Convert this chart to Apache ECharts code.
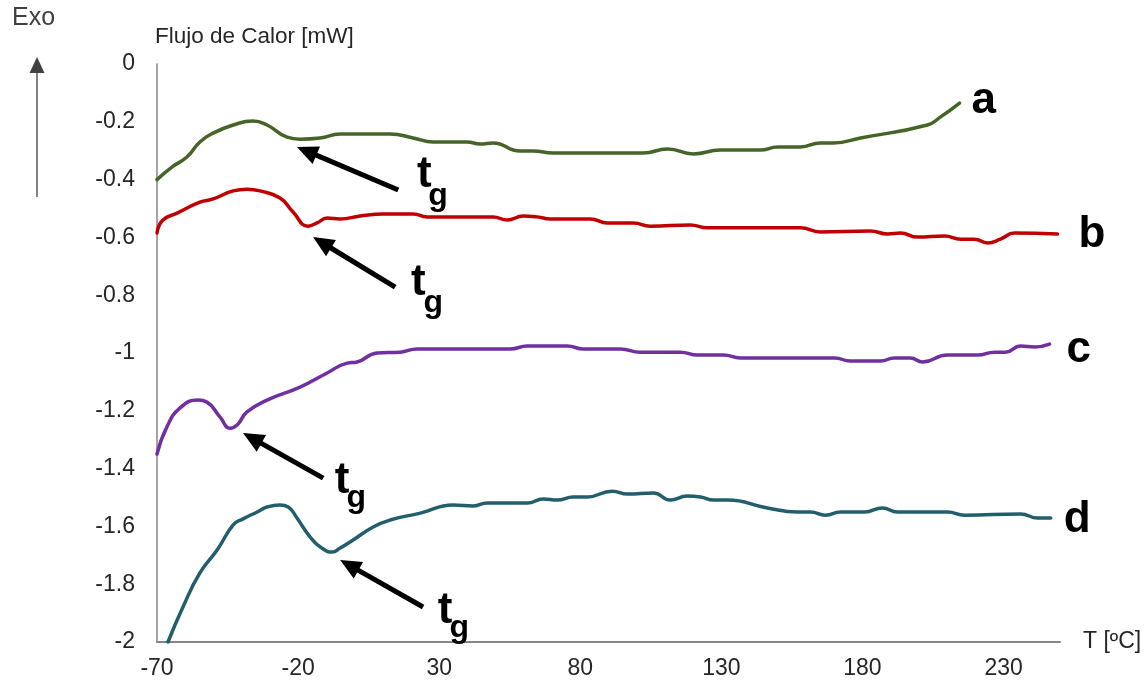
<!DOCTYPE html>
<html lang="es">
<head>
<meta charset="utf-8">
<title>Flujo de Calor</title>
<script src="https://cdn.jsdelivr.net/npm/echarts@6.0.0/dist/echarts.min.js"></script>
<style>
  html, body { margin: 0; padding: 0; background: #fff; }
  #grafico { width: 1147px; height: 685px; }
</style>
</head>
<body>
<div id="grafico"></div>
<script>
// Curvas DSC: [temperatura ºC, flujo de calor mW]
const curvaA = [[-70,-0.40],[-64.5,-0.355],[-59.4,-0.322],[-54.8,-0.27],[-50.1,-0.239],[-43,-0.211],[-36,-0.197],[-31,-0.211],[-23.9,-0.253],[-19.3,-0.26],[-12.2,-0.256],[-5.1,-0.242],[12.6,-0.242],[20.8,-0.256],[27.9,-0.27],[39.9,-0.27],[44.5,-0.277],[49.1,-0.273],[58.7,-0.301],[63.3,-0.301],[70.4,-0.308],[102.3,-0.308],[110.9,-0.294],[120.1,-0.311],[129.6,-0.298],[143.8,-0.298],[149.9,-0.287],[158,-0.287],[165.1,-0.273],[169.7,-0.273],[179.3,-0.256],[203,-0.211],[207.7,-0.183],[214.4,-0.135]];

const curvaB = [[-70,-0.585],[-67.9,-0.54],[-62.9,-0.516],[-54.8,-0.478],[-50.1,-0.467],[-43,-0.439],[-38.1,-0.433],[-33.5,-0.439],[-26.4,-0.464],[-21.8,-0.512],[-16.5,-0.561],[-13.3,-0.55],[-9.7,-0.533],[-5.1,-0.536],[2,-0.526],[10.1,-0.519],[20.8,-0.519],[25.7,-0.529],[49.1,-0.529],[54.1,-0.54],[59.8,-0.526],[64.8,-0.529],[69.4,-0.536],[83.5,-0.536],[89.6,-0.55],[98.8,-0.55],[104.8,-0.561],[119,-0.557],[125,-0.567],[158,-0.567],[165.1,-0.581],[182.8,-0.578],[188.9,-0.588],[193.5,-0.585],[199.5,-0.599],[209.1,-0.595],[214.8,-0.606],[219.7,-0.606],[224.3,-0.619],[228.9,-0.606],[233.9,-0.585],[249.1,-0.588]];

const curvaC = [[-70,-1.35],[-66.5,-1.256],[-61.8,-1.19],[-55.5,-1.163],[-52.3,-1.17],[-47.7,-1.221],[-44.1,-1.26],[-41.6,-1.249],[-38.1,-1.204],[-31,-1.163],[-19.3,-1.118],[-9.7,-1.069],[-2.6,-1.035],[0.9,-1.031],[8,-1.0],[16.2,-0.997],[22.2,-0.986],[55.2,-0.986],[61.2,-0.976],[75.4,-0.976],[81.1,-0.986],[94.2,-0.986],[101.3,-0.997],[115.5,-0.997],[121.5,-1.007],[130.7,-1.007],[136.7,-1.017],[170.1,-1.017],[175.7,-1.028],[186.4,-1.028],[191.3,-1.017],[197,-1.017],[201.3,-1.031],[210.1,-1.007],[220.8,-1.007],[226.8,-0.997],[230.7,-0.997],[236,-0.976],[241,-0.979],[246.3,-0.969]];

const curvaD = [[-66.1,-2.0],[-60.8,-1.879],[-54.8,-1.761],[-48.7,-1.682],[-43,-1.595],[-39.5,-1.574],[-34.5,-1.55],[-31,-1.533],[-26.4,-1.526],[-23.5,-1.533],[-20.4,-1.571],[-15.7,-1.637],[-11.1,-1.678],[-7.9,-1.689],[-5.1,-1.675],[-0.5,-1.647],[6.6,-1.602],[12.6,-1.578],[23.3,-1.554],[35,-1.526],[42.1,-1.529],[47,-1.519],[61.2,-1.519],[66.9,-1.505],[71.8,-1.509],[77.5,-1.498],[82.5,-1.498],[91.3,-1.478],[96.7,-1.488],[105.9,-1.484],[111.9,-1.509],[117.9,-1.495],[122.6,-1.498],[127.2,-1.509],[132.1,-1.509],[146.3,-1.536],[157,-1.55],[161.6,-1.55],[166.9,-1.561],[172.2,-1.55],[180.7,-1.55],[187.1,-1.536],[192.4,-1.55],[210.1,-1.55],[216.2,-1.561],[236,-1.557],[242.1,-1.571],[246.7,-1.571]];

// Nombre de cada muestra y su color
const muestras = ['a', 'b', 'c', 'd'];
const colores = ['#456528', '#C00000', '#7030A0', '#225E6C'];

// Flechas de transición vítrea: [T cola, flujo cola, T punta, flujo punta]
const flechasTg = [
  [15.5, -0.436, -20.4, -0.287],
  [14.4, -0.772, -14.7, -0.599],
  [-11.1, -1.433, -39.5, -1.277],
  [24.3, -1.879, -5.1, -1.716]
];
// Rótulos "t" con subíndice "g": [T, flujo, texto, tamaño]
const rotulosTg = [
  [24.7, -0.384, 't', 44], [29.6, -0.457, 'g', 32],
  [22.6, -0.758, 't', 44], [27.9, -0.827, 'g', 32],
  [-4.4, -1.443, 't', 44], [0.6, -1.502, 'g', 32],
  [32.1, -1.893, 't', 44], [37.1, -1.952, 'g', 32]
];

const FUENTE = '"Liberation Sans", Arial, sans-serif';
const curvas = [curvaA, curvaB, curvaC, curvaD];
// Separación y desplazamiento vertical de la letra al final de cada curva
const etiquetaFinal = [
  { distance: 12, offset: [0, -2] },
  { distance: 21, offset: [0, 1] },
  { distance: 17, offset: [0, 6] },
  { distance: 13, offset: [0, 2] }
];

const chart = echarts.init(document.getElementById('grafico'), null, { renderer: 'canvas' });

const seriesCurvas = curvas.map((datos, i) => ({
  name: muestras[i],
  type: 'line',
  data: datos,
  smooth: 0.5,
  showSymbol: false,
  symbol: 'none',
  silent: true,
  lineStyle: { color: colores[i], width: 3.5, cap: 'round', join: 'round' },
  itemStyle: { color: colores[i] },
  endLabel: {
    show: true,
    formatter: muestras[i],
    color: '#000',
    fontFamily: FUENTE,
    fontWeight: 'bold',
    fontSize: 44,
    distance: etiquetaFinal[i].distance,
    offset: etiquetaFinal[i].offset
  },
  z: 3
}));

const serieFlechas = {
  type: 'custom',
  data: flechasTg,
  encode: { x: [0, 2], y: [1, 3] },
  silent: true,
  clip: false,
  z: 5,
  renderItem: function (params, api) {
    const p1 = api.coord([api.value(0), api.value(1)]);
    const p2 = api.coord([api.value(2), api.value(3)]);
    const dx = p2[0] - p1[0], dy = p2[1] - p1[1];
    const len = Math.sqrt(dx * dx + dy * dy);
    const ux = dx / len, uy = dy / len;
    const largo = 21, medio = 9.5;
    const bx = p2[0] - ux * largo, by = p2[1] - uy * largo;
    return {
      type: 'group',
      children: [
        {
          type: 'line',
          shape: { x1: p1[0], y1: p1[1], x2: bx + ux * 2, y2: by + uy * 2 },
          style: { stroke: '#000', lineWidth: 5 }
        },
        {
          type: 'polygon',
          shape: { points: [
            [p2[0], p2[1]],
            [bx - uy * medio, by + ux * medio],
            [bx + uy * medio, by - ux * medio]
          ] },
          style: { fill: '#000' }
        }
      ]
    };
  }
};

const serieRotulos = {
  type: 'custom',
  data: rotulosTg,
  encode: { x: 0, y: 1 },
  silent: true,
  clip: false,
  z: 5,
  renderItem: function (params, api) {
    const p = api.coord([api.value(0), api.value(1)]);
    const fila = rotulosTg[params.dataIndex];
    return {
      type: 'text',
      x: p[0],
      y: p[1],
      style: {
        text: fila[2],
        fill: '#000',
        font: 'bold ' + fila[3] + 'px ' + FUENTE,
        textAlign: 'center',
        textVerticalAlign: 'middle'
      }
    };
  }
};

const option = {
  backgroundColor: '#fff',
  animation: false,
  grid: { left: 157, right: 87, top: 64, bottom: 43, containLabel: false },
  xAxis: {
    type: 'value',
    min: -70,
    max: 250,
    interval: 50,
    name: 'T [ºC]',
    nameLocation: 'end',
    nameGap: 23,
    nameTextStyle: { color: '#262626', fontFamily: FUENTE, fontSize: 23, verticalAlign: 'middle' },
    axisLine: { show: true, onZero: false, lineStyle: { color: '#868686', width: 2 } },
    axisTick: { show: false },
    splitLine: { show: false },
    axisLabel: {
      color: '#262626', fontFamily: FUENTE, fontSize: 23, margin: 15,
      showMaxLabel: false
    }
  },
  yAxis: {
    type: 'value',
    min: -2,
    max: 0,
    interval: 0.2,
    name: 'Flujo de Calor [mW]',
    nameLocation: 'end',
    nameGap: 16,
    nameTextStyle: { color: '#262626', fontFamily: FUENTE, fontSize: 22.5, align: 'left', verticalAlign: 'bottom', padding: [0, 0, 0, -2] },
    axisLine: { show: true, onZero: false, lineStyle: { color: '#868686', width: 1.5 } },
    axisTick: { show: false },
    splitLine: { show: false },
    axisLabel: { color: '#262626', fontFamily: FUENTE, fontSize: 23, margin: 22 }
  },
  graphic: [
    {
      type: 'text',
      left: 12,
      top: 6,
      style: { text: 'Exo', fill: '#404040', font: '25px ' + FUENTE }
    },
    {
      type: 'line',
      shape: { x1: 37, y1: 197, x2: 37, y2: 70 },
      style: { stroke: '#595959', lineWidth: 1.5 }
    },
    {
      type: 'polygon',
      shape: { points: [[37, 57], [29.5, 73], [44.5, 73]] },
      style: { fill: '#404040' }
    }
  ],
  series: seriesCurvas.concat([serieFlechas, serieRotulos])
};

chart.setOption(option);
</script>
</body>
</html>
